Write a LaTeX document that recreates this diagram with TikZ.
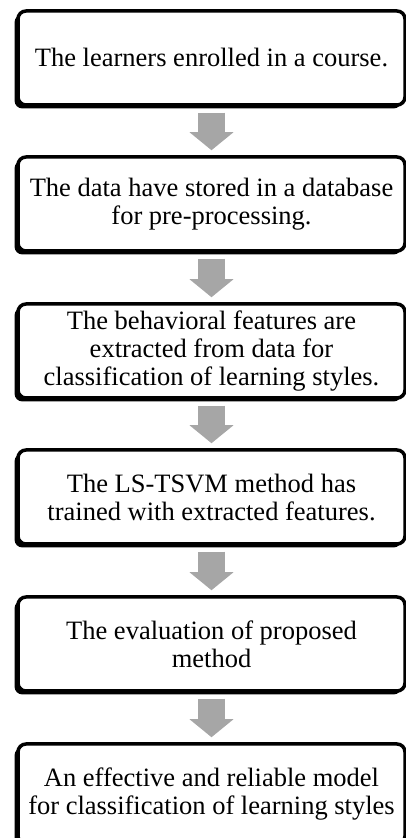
\documentclass[tikz,border=0pt]{standalone}
\usepackage{fontspec}
\setmainfont{Liberation Serif}
\usetikzlibrary{arrows.meta,shadows}
\definecolor{arrowgray}{HTML}{A6A6A6}
\tikzset{
  stepbox/.style={draw=black, line width=3.5pt, fill=white, rounded corners=8pt,
    minimum width=387pt, minimum height=94pt, inner sep=2pt, align=center,
    font=\fontsize{26.5}{28}\selectfont,
    drop shadow={shadow xshift=-3.5pt, shadow yshift=-3.5pt, fill=black, opacity=1}},
  flowarrow/.style={draw=arrowgray, line width=27pt, line cap=butt,
    -{Triangle[width=43pt,length=18pt]}, shorten <=6pt, shorten >=5pt}
}
\begin{document}
\begin{tikzpicture}[x=1pt,y=1pt]
\useasboundingbox (0,0) rectangle (406,838);
\node[stepbox] (b1) at (211.5,780) {The learners enrolled in a course.};
\node[stepbox] (b2) at (211.5,634) {The data have stored in a database\\for pre-processing.};
\node[stepbox] (b3) at (211.5,487) {The behavioral features are\\extracted from data for\\classification of learning styles.};
\node[stepbox] (b4) at (211.5,341) {The LS-TSVM method has\\trained with extracted features.};
\node[stepbox] (b5) at (211.5,194) {The evaluation of proposed\\method};
\node[stepbox, minimum height=100pt] (b6) at (211.5,44) {An effective and reliable model\\for classification of learning styles};
\draw[flowarrow] (b1.south) -- (b2.north);
\draw[flowarrow] (b2.south) -- (b3.north);
\draw[flowarrow] (b3.south) -- (b4.north);
\draw[flowarrow] (b4.south) -- (b5.north);
\draw[flowarrow] (b5.south) -- (b6.north);
\end{tikzpicture}
\end{document}
